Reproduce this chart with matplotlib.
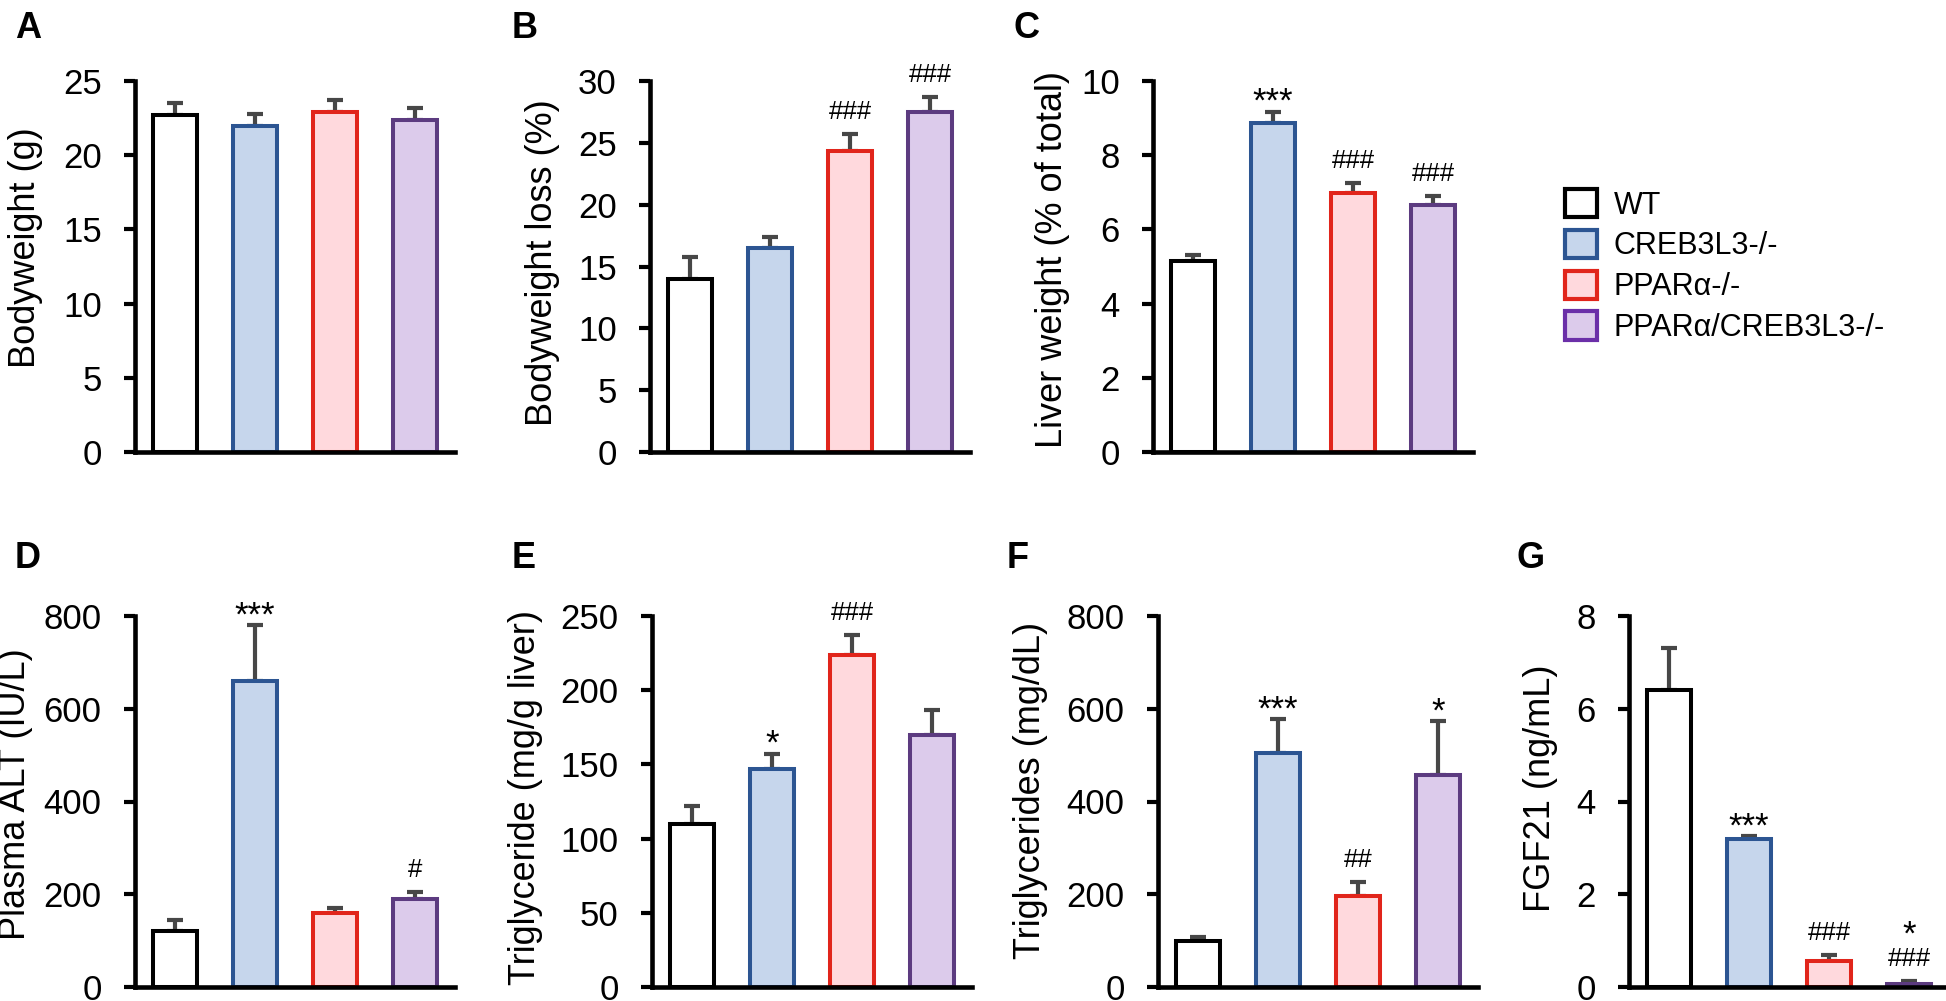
import numpy as np
import matplotlib.pyplot as plt
from matplotlib.patches import Patch

plt.rcParams['font.family'] = ['Liberation Sans', 'DejaVu Sans']
plt.rcParams['axes.unicode_minus'] = False

groups = ['WT', 'CREB3L3-/-', 'PPARα-/-', 'PPARα/CREB3L3-/-']

bodyweight = [22.7, 21.95, 22.9, 22.35]
bodyweight_sem = [0.85, 0.8, 0.85, 0.8]

bw_loss = [14.0, 16.5, 24.3, 27.5]
bw_loss_sem = [1.8, 0.9, 1.4, 1.2]
bw_loss_stars = ['', '', '', '']
bw_loss_hashes = ['', '', '###', '###']

liver = [5.15, 8.87, 6.98, 6.67]
liver_sem = [0.16, 0.3, 0.28, 0.24]
liver_stars = ['', '***', '', '']
liver_hashes = ['', '', '###', '###']

alt = [120, 660, 160, 189]
alt_sem = [25, 120, 10, 16]
alt_stars = ['', '***', '', '']
alt_hashes = ['', '', '', '#']

tg_liver = [110, 147, 224, 170]
tg_liver_sem = [12, 10, 13, 16.5]
tg_liver_stars = ['', '*', '', '']
tg_liver_hashes = ['', '', '###', '']

tg_plasma = [99, 505, 196, 458]
tg_plasma_sem = [8, 72, 31, 115]
tg_plasma_stars = ['', '***', '', '*']
tg_plasma_hashes = ['', '', '##', '']

fgf21 = [6.4, 3.19, 0.57, 0.06]
fgf21_sem = [0.9, 0.06, 0.12, 0.07]
fgf21_stars = ['', '***', '', '*']
fgf21_hashes = ['', '', '###', '###']

edge_colors = ['black', '#2C5592', '#E1251B', '#5C3B80']
fill_colors = ['white', '#C6D6EC', '#FFD9DD', '#DCCBEB']

W, H = 1946, 1001
fig = plt.figure(figsize=(W / 100, H / 100), dpi=100)


def add_panel(left, top, ylabel, label_x, label_y, mean, sem, ymax, step,
              stars=None, hashes=None):
    # axes placed in pixel units of the 1946x1001 figure
    ax = fig.add_axes([left / W, (H - top - 371) / H, 320 / W, 371 / H])
    x = np.arange(len(mean))
    ax.errorbar(x, mean, yerr=[np.zeros(len(sem)), sem], fmt='none',
                ecolor='#474747', elinewidth=3, capsize=6, capthick=3, zorder=1)
    ax.bar(x, mean, width=0.54, color=fill_colors, edgecolor=edge_colors,
           linewidth=2.9, zorder=2)
    ax.set_xlim(-0.5, 3.5)
    ax.set_ylim(0, ymax)
    ax.set_yticks(np.arange(0, ymax + step / 2, step))
    ax.set_xticks([])
    for s in ['top', 'right']:
        ax.spines[s].set_visible(False)
    for s in ['left', 'bottom']:
        ax.spines[s].set_linewidth(3.3)
    ax.tick_params(axis='y', labelsize=25, length=8, width=3, pad=16)
    ax.set_ylabel(ylabel, fontsize=26)
    ax.yaxis.set_label_coords(label_x, label_y)
    for i in range(len(mean)):
        t = mean[i] + sem[i]
        h = hashes[i] if hashes else ''
        st = stars[i] if stars else ''
        if h:
            ax.annotate(h, (i, t), xytext=(0, 15), textcoords='offset pixels',
                        ha='center', va='baseline', fontsize=18.5, annotation_clip=False)
        if st:
            ax.annotate(st, (i, t), xytext=(0, 36 if h else 0), textcoords='offset pixels',
                        ha='center', va='baseline', fontsize=25, annotation_clip=False)
    return ax


add_panel(135, 81, 'Bodyweight (g)', -0.2875, 0.55, bodyweight, bodyweight_sem, 25, 5)
add_panel(650, 81, 'Bodyweight loss (%)', -0.281, 0.51, bw_loss, bw_loss_sem, 30, 5,
          bw_loss_stars, bw_loss_hashes)
add_panel(1153, 81, 'Liver weight (% of total)', -0.259, 0.52, liver, liver_sem, 10, 2,
          liver_stars, liver_hashes)
add_panel(135, 616, 'Plasma ALT (IU/L)', -0.319, 0.52, alt, alt_sem, 800, 200,
          alt_stars, alt_hashes)
add_panel(652, 616, 'Triglyceride (mg/g liver)', -0.341, 0.51, tg_liver, tg_liver_sem, 250, 50,
          tg_liver_stars, tg_liver_hashes)
add_panel(1158, 616, 'Triglycerides (mg/dL)', -0.344, 0.53, tg_plasma, tg_plasma_sem, 800, 200,
          tg_plasma_stars, tg_plasma_hashes)
add_panel(1629, 616, 'FGF21 (ng/mL)', -0.222, 0.535, fgf21, fgf21_sem, 8, 2,
          fgf21_stars, fgf21_hashes)

for letter, lx, ly in [('A', 15, 11), ('B', 512, 11), ('C', 1013, 11), ('D', 15, 541),
                       ('E', 512, 541), ('F', 1007, 541), ('G', 1517, 541)]:
    fig.text(lx / W, 1 - ly / H, letter, fontsize=26, fontweight='bold', ha='left', va='top')

handles = [Patch(facecolor=f, edgecolor=e, linewidth=3) for f, e in zip(fill_colors, edge_colors)]
handles[3].set_edgecolor('#6B2FA8')
fig.legend(handles, groups, loc='upper left', bbox_to_anchor=(1565 / W, 1 - 189 / H),
           frameon=False, fontsize=22, handlelength=1.05, handleheight=1.05,
           handletextpad=0.55, labelspacing=0.3, borderpad=0, borderaxespad=0)

fig.savefig('out.png', dpi=100)
